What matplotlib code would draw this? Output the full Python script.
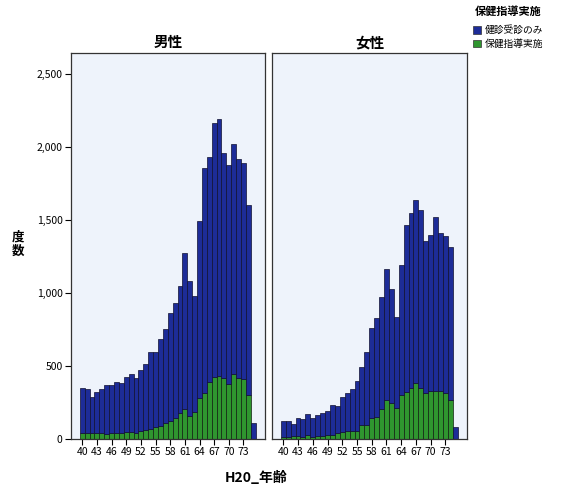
import numpy as np
import matplotlib
matplotlib.use("Agg")
import matplotlib.pyplot as plt
from matplotlib.patches import Patch
from matplotlib.ticker import FuncFormatter

plt.rcParams['font.family'] = ['Noto Sans CJK JP', 'DejaVu Sans']

ages = list(range(40, 76))
tick_ages = list(range(40, 74, 3))

# 男性
male_kenshin = [313, 306, 251, 283, 302, 335, 333, 350, 343, 375, 399, 379,
                417, 453, 523, 515, 598, 644, 738, 792, 872, 1072, 925, 796,
                1212, 1544, 1545, 1744, 1764, 1542, 1501, 1577, 1506, 1480, 1304, 111]
male_shido = [38, 38, 38, 38, 38, 36, 38, 40, 38, 47, 50, 38,
              55, 60, 72, 80, 89, 107, 123, 142, 176, 205, 160, 183,
              280, 313, 390, 425, 432, 416, 375, 445, 416, 410, 302, 0]

# 女性
female_kenshin = [111, 114, 80, 124, 123, 145, 127, 140, 160, 165, 202, 186,
                  239, 260, 290, 348, 399, 504, 618, 681, 772, 899, 782, 629,
                  891, 1143, 1200, 1257, 1223, 1042, 1068, 1194, 1080, 1076, 1048, 85]
female_shido = [15, 12, 20, 18, 12, 25, 15, 22, 20, 30, 28, 39,
                46, 55, 55, 52, 96, 96, 142, 149, 204, 267, 245, 210,
                302, 325, 348, 382, 348, 318, 331, 331, 331, 318, 267, 0]

panels = [("男性", male_kenshin, male_shido), ("女性", female_kenshin, female_shido)]

blue = '#1d2c98'
green = '#2f962f'
bg = '#eef3fb'

fig = plt.figure(figsize=(5.62, 4.93), dpi=100)
ax_l = fig.add_axes([0.1263, 0.1095, 0.3452, 0.783])
ax_r = fig.add_axes([0.484, 0.1095, 0.347, 0.783], sharey=ax_l)

for ax, (title, ken, shi) in zip([ax_l, ax_r], panels):
    ax.set_facecolor(bg)
    ax.bar(ages, shi, width=1.0, color=green, edgecolor='#102010', linewidth=0.5)
    ax.bar(ages, ken, width=1.0, bottom=shi, color=blue, edgecolor='#101030', linewidth=0.5)
    ax.set_xlim(37.7, 77.4)
    ax.set_ylim(0, 2647)
    ax.set_xticks(tick_ages)
    ax.tick_params(axis='x', labelsize=7.5, length=4, direction='out', pad=2)
    ax.set_title(title, fontsize=10.5, fontweight='bold', pad=4)
    for s in ax.spines.values():
        s.set_color('#333333')
        s.set_linewidth(0.9)

ax_l.set_yticks([0, 500, 1000, 1500, 2000, 2500])
ax_l.yaxis.set_major_formatter(FuncFormatter(lambda v, p: f"{int(v):,}"))
ax_l.tick_params(axis='y', labelsize=7.5, length=4, direction='out', pad=2)
ax_r.tick_params(axis='y', left=False, labelleft=False)

fig.text(0.032, 0.505, "度\n数", fontsize=9, fontweight='bold', ha='center', va='center', linespacing=1.1)
fig.text(0.455, 0.03, "H20_年齢", fontsize=10, fontweight='bold', ha='center', va='center')

handles = [Patch(facecolor=blue, edgecolor='#333333', linewidth=0.5),
           Patch(facecolor=green, edgecolor='#333333', linewidth=0.5)]
leg = fig.legend(handles, ["健診受診のみ", "保健指導実施"], title="保健指導実施",
                 loc='upper left', bbox_to_anchor=(0.83, 1.003), frameon=False,
                 fontsize=7, title_fontsize=8, handlelength=0.8, handleheight=0.8,
                 handletextpad=0.4, labelspacing=0.35, borderpad=0.2)
leg.get_title().set_fontweight('bold')
leg._legend_box.sep = 5

fig.savefig("out.png", dpi=100)
